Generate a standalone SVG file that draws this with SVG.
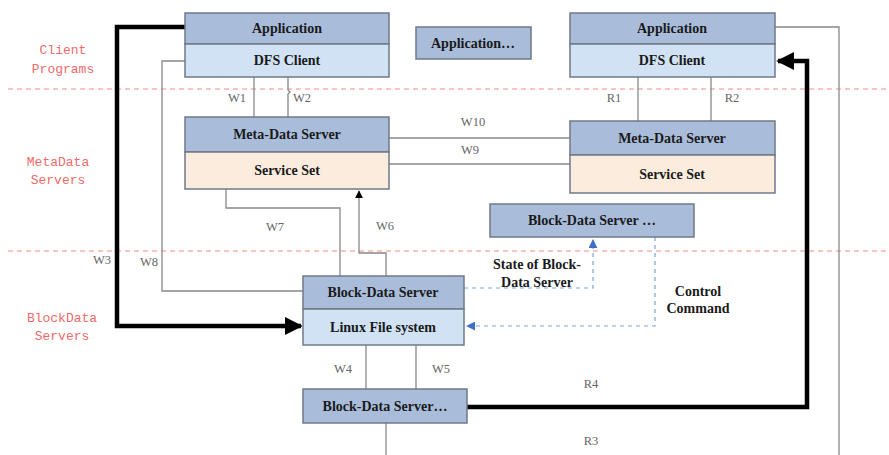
<svg xmlns="http://www.w3.org/2000/svg" width="889" height="455" viewBox="0 0 889 455">
<defs>
<style>
.hd{fill:#a9bddb;stroke:#6f7a88;stroke-width:1.5}
.cl{fill:#d0e2f4;stroke:#6f7a88;stroke-width:1.5}
.ss{fill:#fcecde;stroke:#6f7a88;stroke-width:1.5}
.t{font-family:"Liberation Serif",serif;font-weight:bold;font-size:14px;fill:#1a1a1a;text-anchor:middle}
.lb{font-family:"Liberation Serif",serif;font-size:12.5px;fill:#666;text-anchor:middle}
.zone{font-family:"Liberation Mono",monospace;font-size:13px;fill:#f06a6a;text-anchor:middle}
.thin{fill:none;stroke:#888;stroke-width:1.3}
.thick{fill:none;stroke:#000;stroke-width:4.5}
.blue{fill:none;stroke:#7da2dc;stroke-width:1.2;stroke-dasharray:4 4}
.red{fill:none;stroke:#f28a8a;stroke-width:1.2;stroke-dasharray:5 4}
</style>
<marker id="ab" viewBox="0 0 10 10" refX="9" refY="5" markerWidth="4" markerHeight="4" orient="auto" markerUnits="strokeWidth"><path d="M0,0 L10,5 L0,10 z" fill="#000"/></marker>
<marker id="as" viewBox="0 0 10 10" refX="9" refY="5" markerWidth="8" markerHeight="8" orient="auto" markerUnits="userSpaceOnUse"><path d="M0,0 L10,5 L0,10 z" fill="#000"/></marker>
<marker id="abl" viewBox="0 0 10 10" refX="9" refY="5" markerWidth="9" markerHeight="9" orient="auto" markerUnits="userSpaceOnUse"><path d="M0,0 L10,5 L0,10 z" fill="#3f6fc6"/></marker>
</defs>
<rect width="889" height="455" fill="#fff"/>
<g id="zones">
<line class="red" x1="8" y1="89" x2="889" y2="89"/>
<line class="red" x1="8" y1="251" x2="889" y2="251"/>
<text class="zone" x="63" y="54">Client</text>
<text class="zone" x="63" y="73">Programs</text>
<text class="zone" x="58" y="166">MetaData</text>
<text class="zone" x="58" y="184">Servers</text>
<text class="zone" x="62" y="322">BlockData</text>
<text class="zone" x="62" y="340">Servers</text>
</g>
<g id="connectors">
<polyline class="thin" points="254,77 254,117"/>
<polyline class="thin" points="288,77 288,90 290,92 288,94 288,117"/>
<polyline class="thin" points="638,77 638,121"/>
<polyline class="thin" points="711,77 711,121"/>
<polyline class="thin" points="389,138 570,138"/>
<polyline class="thin" points="389,164 570,164"/>
<polyline class="thin" points="185,61 162,61 162,291 303,291"/>
<polyline class="thin" points="226,189 226,208 340,208 340,276"/>
<polyline class="thin" points="386,276 386,253 359,253 359,191" marker-end="url(#as)"/>
<polyline class="thin" points="366,345 366,389"/>
<polyline class="thin" points="416,345 416,389"/>
<polyline class="thin" points="386,423 386,455"/>
<polyline class="thin" points="775,27 839,27 839,455"/>
<polyline class="thick" points="185,27 117,27 117,326 301,326" marker-end="url(#ab)"/>
<polyline class="thick" points="467,407 807,407 807,61 778,61" marker-end="url(#ab)"/>
<polyline class="blue" points="464,288 593,288 593,240" marker-end="url(#abl)"/>
<polyline class="blue" points="655,237 655,326 467,326" marker-end="url(#abl)"/>
<text class="lb" x="237" y="102">W1</text>
<text class="lb" x="302" y="102">W2</text>
<text class="lb" x="614" y="102">R1</text>
<text class="lb" x="732" y="102">R2</text>
<text class="lb" x="473" y="126">W10</text>
<text class="lb" x="470" y="154">W9</text>
<text class="lb" x="275" y="231">W7</text>
<text class="lb" x="385" y="230">W6</text>
<text class="lb" x="102" y="264">W3</text>
<text class="lb" x="149" y="266">W8</text>
<text class="lb" x="343" y="373">W4</text>
<text class="lb" x="441" y="373">W5</text>
<text class="lb" x="591" y="388">R4</text>
<text class="lb" x="591" y="445">R3</text>
<text class="t" x="537" y="269">State of Block-</text>
<text class="t" x="537" y="287">Data Server</text>
<text class="t" x="698" y="296">Control</text>
<text class="t" x="698" y="313">Command</text>
</g>
<g id="client1">
<rect class="hd" x="185" y="13" width="204" height="31"/>
<rect class="cl" x="185" y="44" width="204" height="33"/>
<text class="t" x="287" y="33">Application</text>
<text class="t" x="287" y="65">DFS Client</text>
</g>
<g id="app-more">
<rect class="hd" x="416" y="27" width="115" height="32"/>
<text class="t" x="473" y="48">Application…</text>
</g>
<g id="client2">
<rect class="hd" x="570" y="13" width="205" height="31"/>
<rect class="cl" x="570" y="44" width="205" height="33"/>
<text class="t" x="672" y="33">Application</text>
<text class="t" x="672" y="65">DFS Client</text>
</g>
<g id="meta1">
<rect class="hd" x="185" y="117" width="204" height="35"/>
<rect class="ss" x="185" y="152" width="204" height="37"/>
<text class="t" x="287" y="139">Meta-Data Server</text>
<text class="t" x="287" y="175">Service Set</text>
</g>
<g id="meta2">
<rect class="hd" x="570" y="121" width="205" height="34"/>
<rect class="ss" x="570" y="155" width="205" height="38"/>
<text class="t" x="672" y="143">Meta-Data Server</text>
<text class="t" x="672" y="179">Service Set</text>
</g>
<g id="block-more">
<rect class="hd" x="490" y="204" width="204" height="33"/>
<text class="t" x="592" y="225">Block-Data Server …</text>
</g>
<g id="block1">
<rect class="hd" x="303" y="276" width="161" height="33"/>
<rect class="cl" x="303" y="309" width="161" height="36"/>
<text class="t" x="383" y="297">Block-Data Server</text>
<text class="t" x="383" y="332">Linux File system</text>
</g>
<g id="block2">
<rect class="hd" x="303" y="389" width="164" height="34"/>
<text class="t" x="385" y="411">Block-Data Server…</text>
</g>
</svg>
